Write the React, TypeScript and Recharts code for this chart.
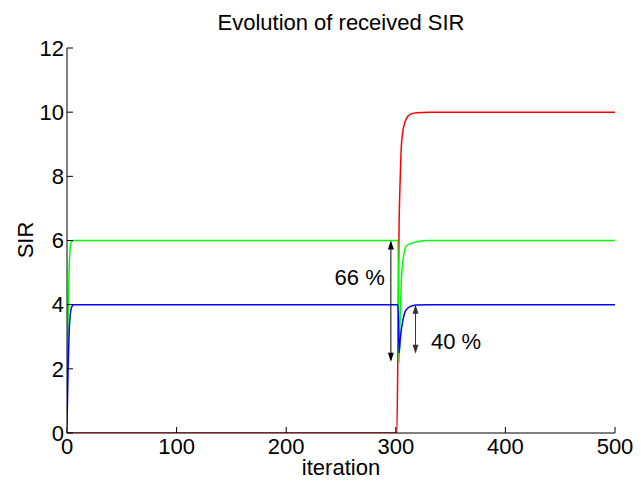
import { LineChart, Line, XAxis, YAxis, ReferenceLine, ReferenceDot } from 'recharts'

const xTicks = [0, 100, 200, 300, 400, 500]
const yTicks = [0, 2, 4, 6, 8, 10, 12]

// red user: silent until iteration ~301, then jumps to 10
const redIter = [0, 301, 302, 303, 304, 305, 306, 308, 310, 313, 319, 330, 500]
const redSir = [0, 0, 3.0, 6.5, 7.9, 8.9, 9.3, 9.65, 9.82, 9.93, 9.98, 10, 10]

const greenIter = [0, 1, 2, 3, 4, 6, 302, 303, 304, 305, 306, 307, 308.5, 310, 313, 319, 330, 500]
const greenSir = [0.5, 3.6, 5.2, 5.8, 5.97, 6, 6, 2.18, 3.6, 4.7, 5.2, 5.5, 5.76, 5.84, 5.9, 5.96, 6, 6]

const blueIter = [0, 1, 2, 3, 4, 6, 302, 303, 304, 305, 306, 307, 308.5, 310, 313, 319, 330, 500]
const blueSir = [0.2, 2.0, 3.2, 3.7, 3.9, 4, 4, 2.5, 2.9, 3.2, 3.42, 3.6, 3.78, 3.86, 3.94, 3.99, 4, 4]

// drop annotations
const arrowIter = [295.5, 318]
const arrowTop = [6, 4]
const arrowBottom = [2.22, 2.47]
const arrowColors = ['#000', '#333']
const noteText = ['66 %', '40 %']
const noteIter = [267, 355]
const noteSir = [4.85, 2.87]

const zip = (xs: number[], ys: number[]) => xs.map((iter, i) => ({ iter, sir: ys[i] }))

const red = zip(redIter, redSir)
const green = zip(greenIter, greenSir)
const blue = zip(blueIter, blueSir)

const font = '"Liberation Sans", Arial, Helvetica, sans-serif'
const tickStyle = { fontSize: 22, fill: '#000' }
const blank = () => ''

const arrowShape = (color: string) => (p: any) => {
  const { x1, y1, x2, y2 } = p
  const top = Math.min(y1, y2)
  const bot = Math.max(y1, y2)
  return (
    <g>
      <line x1={x1} y1={top + 2} x2={x2} y2={bot - 2} stroke={color} strokeWidth={1} />
      <polygon points={`${x1},${top} ${x1 - 3},${top + 9} ${x1 + 3},${top + 9}`} fill={color} />
      <polygon points={`${x1},${bot} ${x1 - 3},${bot - 9} ${x1 + 3},${bot - 9}`} fill={color} />
    </g>
  )
}

export default function App() {
  return (
    <div style={{ position: 'absolute', left: 0, top: 0, width: 641, height: 484, background: '#fff', fontFamily: font }}>
      <LineChart width={641} height={484} margin={{ top: 48, right: 26, bottom: 21, left: 27 }}>
        <text x={341} y={30} textAnchor="middle" fontSize={22} fill="#000">Evolution of received SIR</text>
        <text transform="translate(33,240) rotate(-90)" textAnchor="middle" fontSize={22} fill="#000">SIR</text>
        <text x={341} y={475} textAnchor="middle" fontSize={22} fill="#000">iteration</text>

        <XAxis dataKey="iter" type="number" domain={[0, 500]} ticks={xTicks} interval={0}
          height={30} tick={tickStyle} tickSize={-6} tickMargin={11}
          axisLine={{ stroke: '#000' }} tickLine={{ stroke: '#000' }} allowDataOverflow />
        <XAxis xAxisId="top" orientation="top" type="number" domain={[0, 500]} ticks={xTicks} interval={0}
          height={0} tick={tickStyle} tickFormatter={blank} tickSize={-6}
          axisLine={{ stroke: '#000' }} tickLine={{ stroke: '#000' }} allowDataOverflow />
        <YAxis type="number" domain={[0, 12]} ticks={yTicks} interval={0}
          width={40} tick={tickStyle} tickSize={-6} tickMargin={9}
          axisLine={{ stroke: '#000' }} tickLine={{ stroke: '#000' }} allowDataOverflow />
        <YAxis yAxisId="right" orientation="right" type="number" domain={[0, 12]} ticks={yTicks} interval={0}
          width={0} tick={tickStyle} tickFormatter={blank} tickSize={-6}
          axisLine={{ stroke: '#000' }} tickLine={{ stroke: '#000' }} allowDataOverflow />

        <Line data={red} dataKey="sir" type="monotone" stroke="#ff0000" strokeWidth={1.5} dot={false} isAnimationActive={false} />
        <Line data={green} dataKey="sir" type="monotone" stroke="#00ff00" strokeWidth={1.5} dot={false} isAnimationActive={false} />
        <Line data={blue} dataKey="sir" type="monotone" stroke="#0000ff" strokeWidth={1.5} dot={false} isAnimationActive={false} />

        {arrowIter.map((x, i) => (
          <ReferenceLine key={'a' + i}
            segment={[{ x, y: arrowTop[i] }, { x, y: arrowBottom[i] }]}
            shape={arrowShape(arrowColors[i])} ifOverflow="visible" />
        ))}
        {noteText.map((t, i) => (
          <ReferenceDot key={'n' + i} x={noteIter[i]} y={noteSir[i]} r={0} fill="none" stroke="none"
            ifOverflow="visible"
            label={{ value: t, position: 'center', fontSize: 22, fill: '#000' }} />
        ))}
      </LineChart>
    </div>
  )
}
